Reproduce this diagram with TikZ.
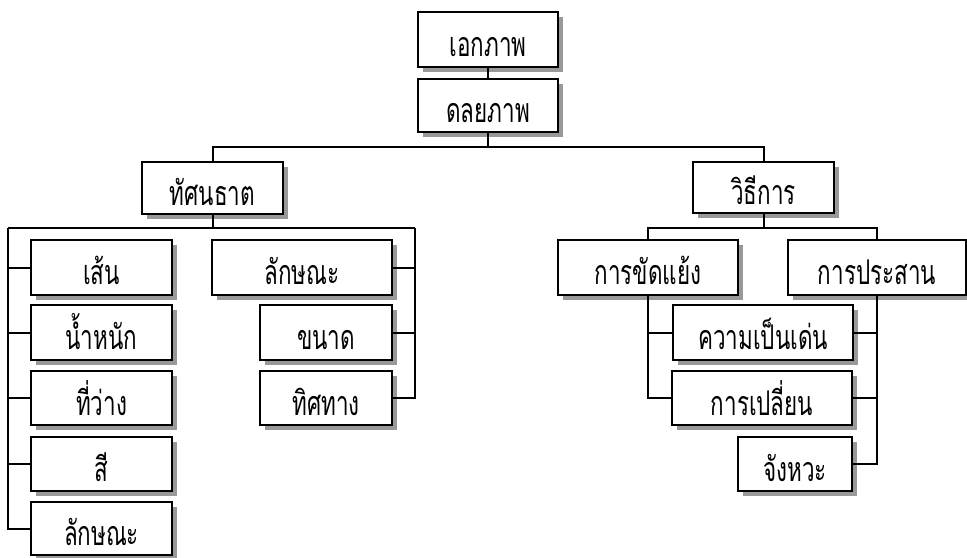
\documentclass[tikz,border=0pt]{standalone}
\usepackage{fontspec}
\newfontfamily\thaifont[Script=Thai, FakeStretch=0.66]{Loma}
\usetikzlibrary{shadows}
\tikzset{
  unit/.style={draw, line width=1pt, fill=white, inner sep=0pt,
    text height=18pt, text depth=1pt,
    drop shadow={shadow xshift=2.5pt, shadow yshift=-2.5pt, fill=black!40, opacity=1},
    font=\thaifont\fontsize{17}{20}\selectfont},
  boxsize/.style 2 args={minimum width=#1*0.5pt, minimum height=#2*0.5pt},
  link/.style={line width=1pt}
}
\begin{document}
\begin{tikzpicture}[x=0.5pt, y=-0.5pt]
        \useasboundingbox (0,0) rectangle (967,557);

        % top of the tree
        \node[unit, boxsize={140}{55}] (ekkaphap) at (488,39.5) {เอกภาพ};
        \node[unit, boxsize={140}{53}] (donlaya) at (488,105.5) {ดลยภาพ};
        \node[unit, boxsize={141}{52}] (thatsana) at (212.5,188) {ทัศนธาต};
        \node[unit, boxsize={141}{51}] (withi) at (763.5,187.5) {วิธีการ};

        % left branch
        \node[unit, boxsize={141}{55}] (sen) at (101.5,267.5) {เส้น};
        \node[unit, boxsize={141}{55}] (namnak) at (101.5,332.5) {น้ำหนัก};
        \node[unit, boxsize={141}{54}] (thiwang) at (101.5,398) {ที่ว่าง};
        \node[unit, boxsize={141}{54}] (si) at (101.5,464) {สี};
        \node[unit, boxsize={141}{53}] (laksanaA) at (101.5,528.5) {ลักษณะ};

        \node[unit, boxsize={180}{55}] (laksanaB) at (302,267.5) {ลักษณะ};
        \node[unit, boxsize={132}{55}] (khanat) at (326,332.5) {ขนาด};
        \node[unit, boxsize={132}{54}] (thit) at (326,398) {ทิศทาง};

        % right branch
        \node[unit, boxsize={180}{55}] (khat) at (648,267.5) {การขัดแย้ง};
        \node[unit, boxsize={178}{55}] (prasan) at (877,267.5) {การประสาน};
        \node[unit, boxsize={180}{55}] (pen) at (763,332.5) {ความเป็นเด่น};
        \node[unit, boxsize={180}{54}] (plian) at (762,398) {การเปลี่ยน};
        \node[unit, boxsize={114}{54}] (changwa) at (795,464) {จังหวะ};

        % connectors
        \coordinate (bus1) at (488,147);
        \coordinate (bus2) at (212.5,228);
        \coordinate (bus2L) at (8,228);
        \coordinate (bus2R) at (415,228);
        \coordinate (bus3) at (763.5,228);

        \draw[link] (ekkaphap) -- (donlaya);
        \draw[link] (donlaya) -- (bus1);
        \draw[link] (thatsana.north) |- (bus1) -| (withi.north);

        \draw[link] (thatsana) -- (bus2);
        \draw[link] (bus2L) -- (bus2R);
        \draw[link] (bus2L) |- (laksanaA.west);
        \foreach \n in {sen, namnak, thiwang, si}
          \draw[link] (bus2L |- \n.west) -- (\n.west);
        \draw[link] (bus2R) |- (thit.east);
        \foreach \n in {laksanaB, khanat}
          \draw[link] (bus2R |- \n.east) -- (\n.east);

        \draw[link] (withi) -- (bus3);
        \draw[link] (khat.north) |- (bus3) -| (prasan.north);
        \draw[link] (khat.south) |- (plian.west);
        \draw[link] (khat.south |- pen.west) -- (pen.west);
        \draw[link] (prasan.south) |- (changwa.east);
        \foreach \n in {pen, plian}
          \draw[link] (prasan.south |- \n.east) -- (\n.east);
\end{tikzpicture}
\end{document}
